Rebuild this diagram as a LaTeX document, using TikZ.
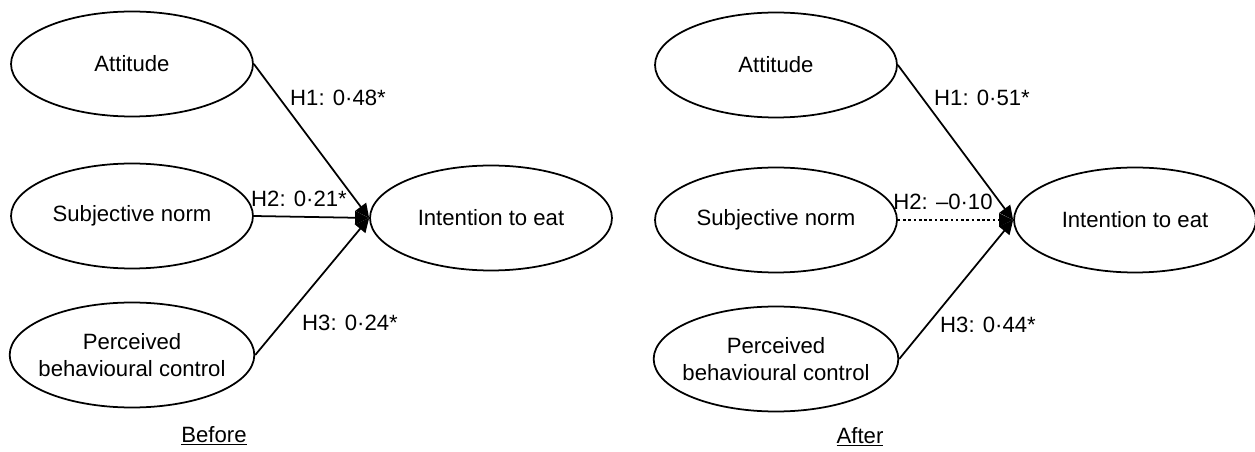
\documentclass[tikz,border=0pt]{standalone}
\usepackage{fontspec}
\setmainfont{Liberation Sans}
\usetikzlibrary{arrows.meta, positioning, shapes.geometric}

\begin{document}
\begin{tikzpicture}[x=0.02cm, y=-0.02cm,
        construct/.style={ellipse, draw, line width=1pt, minimum width=4.84cm, minimum height=2.1cm, inner xsep=-4pt, inner ysep=0pt, align=center, font=\fontsize{12.6}{15}\selectfont},
        path/.style={line width=1pt, -{Triangle[length=8pt, width=7.5pt]}},
        coef/.style={font=\fontsize{12.6}{15}\selectfont, inner sep=1pt},
        caption/.style={font=\fontsize{12.6}{15}\selectfont}]
        \useasboundingbox (0,0) rectangle (1255,452);

        % Before: constructs
        \node [construct] (att1) at (132, 64) {Attitude};
        \node [construct] (sn1) at (132, 216) {Subjective norm};
        \node [construct] (pbc1) at (132, 355) {Perceived\\behavioural control};
        \node [construct] (int1) at (491, 218) {Intention to eat};

        % Before: paths
        \draw [path] (att1.east) -- (int1.west);
        \draw [path] (sn1.east) -- (int1.west);
        \draw [path] (pbc1.east) -- (int1.west);

        % Before: coefficients
        \node [coef] (h1a) at (338, 98) {H1: 0·48*};
        \node [coef] (h2a) at (299, 199) {H2: 0·21*};
        \node [coef] (h3a) at (350, 323) {H3: 0·24*};
        \node [caption] (before) at (214, 436) {\underline{Before}};

        % After: constructs
        \node [construct] (att2) at (776, 65) {Attitude};
        \node [construct] (sn2) at (776, 220) {Subjective norm};
        \node [construct] (pbc2) at (776, 359) {Perceived\\behavioural control};
        \node [construct] (int2) at (1135, 220) {Intention to eat};

        % After: paths (H2 not significant)
        \draw [path] (att2.east) -- (int2.west);
        \draw [path, dash pattern=on 1.5pt off 1.5pt] (sn2.east) -- (int2.west);
        \draw [path] (pbc2.east) -- (int2.west);

        % After: coefficients
        \node [coef] (h1b) at (982, 98) {H1: 0·51*};
        \node [coef] (h2b) at (943, 202) {H2: –0·10};
        \node [coef] (h3b) at (988, 325) {H3: 0·44*};
        \node [caption] (after) at (860, 437) {\underline{After}};
    \end{tikzpicture}
\end{document}
